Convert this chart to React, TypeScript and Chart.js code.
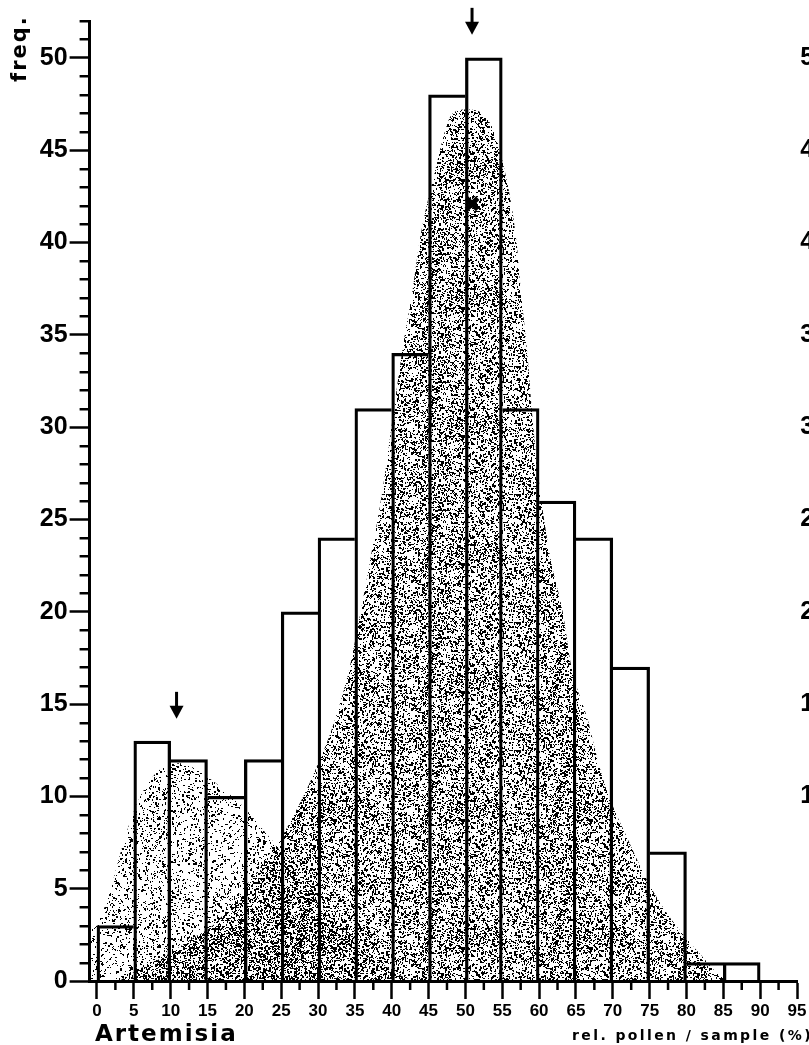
import React, { useEffect, useRef } from 'react';
import { Chart, registerables } from 'chart.js';

Chart.register(...registerables);

// ---------------- data ----------------
const binStarts = [0, 5, 10, 15, 20, 25, 30, 35, 40, 45, 50, 55, 60, 65, 70, 75, 80, 85];
const frequencies = [3, 13, 12, 10, 12, 20, 24, 31, 34, 48, 50, 31, 26, 24, 17, 7, 1, 1];
const BIN_WIDTH = 5;

// low (left) fitted mode
const lowModeX = [-1, 0, 1.5, 3.3, 5.2, 6.9, 8.7, 11.4, 13.7, 16.8, 20, 22.3, 24.4, 26.5, 29.3, 33, 37, 40.7, 43];
const lowModeY = [2.8, 3.2, 4.5, 7.1, 9.4, 10.7, 11.5, 11.8, 11.4, 10.5, 9.4, 8.3, 7.3, 6.0, 4.55, 2.9, 1.5, 0.4, 0];

// high (main) fitted mode
const highModeX = [3, 6, 9, 12.5, 16, 19.5, 23, 25.5, 27.5, 29.5, 32, 34.3, 35.3, 37, 38.8, 40.2, 41.5, 42.9, 43.8, 45.6, 48.3, 50.2, 53.3, 55.6, 57, 57.4, 58.4, 59.1, 60, 61.5, 63.2, 64.4, 66.5, 68.2, 69.3, 71.9, 74.6, 77.3, 79.8, 82.2, 84.5, 86];
const highModeY = [0, 0.7, 1.3, 2.2, 3.1, 4.8, 6.6, 8.1, 9.6, 11.3, 13.8, 17, 19, 22.6, 26.7, 30.7, 34.3, 37.6, 40.1, 43.4, 47, 47.2, 46.5, 43.4, 39.8, 37.9, 34, 30.5, 27, 23, 20, 17, 14.3, 11.6, 10.2, 7.8, 5.5, 3.7, 2.4, 1.3, 0.3, 0];

// mode arrows (x position, tip value)
const modeArrowX = [10.8, 50.9];
const modeArrowTipY = [14.2, 51.25];

// cross mark inside the main mode
const peakMarkX = [50.9];
const peakMarkY = [42.1];

const xTickLabels = [0, 5, 10, 15, 20, 25, 30, 35, 40, 45, 50, 55, 60, 65, 70, 75, 80, 85, 90, 95];
const yTickLabels = [0, 5, 10, 15, 20, 25, 30, 35, 40, 45, 50];
const X_MIN = -1;
const X_MAX = 95;
const Y_MAX = 52;

const Y_TITLE = 'freq.';
const TAXON_LABEL = 'Artemisia';
const X_TITLE = 'rel. pollen / sample (%)';

const TICK_FONT = "'Liberation Sans', Arial, sans-serif";

function makeStipple(ctx: CanvasRenderingContext2D, count: number, seed: number): CanvasPattern {
  const size = 128;
  const c = document.createElement('canvas');
  c.width = size;
  c.height = size;
  const g = c.getContext('2d') as CanvasRenderingContext2D;
  let s = seed >>> 0;
  const next = () => {
    s = (Math.imul(s, 1664525) + 1013904223) >>> 0;
    return s / 4294967296;
  };
  g.fillStyle = '#000';
  for (let i = 0; i < count; i++) {
    const px = Math.floor(next() * size);
    const py = Math.floor(next() * size);
    const w = next() < 0.35 ? 2 : 1;
    const h = next() < 0.35 ? 2 : 1;
    g.fillRect(px, py, w, h);
  }
  return ctx.createPattern(c, 'repeat') as CanvasPattern;
}

const decorPlugin = {
  id: 'decor',
  afterDraw(chart: any) {
    const { ctx, chartArea } = chart;
    const x = chart.scales.x;
    const y = chart.scales.y;
    ctx.save();
    ctx.strokeStyle = '#000';
    ctx.fillStyle = '#000';
    ctx.lineWidth = 2.5;
    ctx.lineCap = 'butt';

    // minor ticks on the y axis (every unit)
    for (let v = 0; v <= Y_MAX; v += 1) {
      if (yTickLabels.indexOf(v) >= 0) continue;
      const py = Math.round(y.getPixelForValue(v)) + 0.25;
      ctx.beginPath();
      ctx.moveTo(chartArea.left - 10, py);
      ctx.lineTo(chartArea.left, py);
      ctx.stroke();
    }
    // minor ticks on the x axis (half way between labels)
    for (let i = 0; i < xTickLabels.length - 1; i++) {
      const v = (xTickLabels[i] + xTickLabels[i + 1]) / 2;
      const px = x.getPixelForValue(v);
      ctx.beginPath();
      ctx.moveTo(px, chartArea.bottom);
      ctx.lineTo(px, chartArea.bottom + 9);
      ctx.stroke();
    }

    // arrows marking the modes
    for (let i = 0; i < modeArrowX.length; i++) {
      const px = x.getPixelForValue(modeArrowX[i]);
      const tip = y.getPixelForValue(modeArrowTipY[i]);
      ctx.lineWidth = 3;
      ctx.beginPath();
      ctx.moveTo(px, tip - 27);
      ctx.lineTo(px, tip - 10);
      ctx.stroke();
      ctx.beginPath();
      ctx.moveTo(px - 7, tip - 13);
      ctx.lineTo(px + 7, tip - 13);
      ctx.lineTo(px, tip);
      ctx.closePath();
      ctx.fill();
    }

    // captions
    ctx.textAlign = 'left';
    ctx.textBaseline = 'alphabetic';
    (ctx as any).letterSpacing = '2px';
    ctx.font = "bold 23px 'DejaVu Sans', sans-serif";
    ctx.fillText(TAXON_LABEL, x.getPixelForValue(0) - 2, chartArea.bottom + 60);

    (ctx as any).letterSpacing = '2.4px';
    ctx.font = "bold 14px 'DejaVu Sans', sans-serif";
    ctx.fillText(X_TITLE, chartArea.right - 225, chartArea.bottom + 59);

    (ctx as any).letterSpacing = '2px';
    ctx.font = "bold 21px 'DejaVu Sans', sans-serif";
    ctx.translate(chartArea.left - 64, chartArea.top + 61);
    ctx.rotate(-Math.PI / 2);
    ctx.fillText(Y_TITLE, 0, 0);
    ctx.restore();
  },
};

export default function App() {
  const ref = useRef<HTMLCanvasElement | null>(null);

  useEffect(() => {
    const canvas = ref.current;
    if (!canvas) return;
    const ctx = canvas.getContext('2d') as CanvasRenderingContext2D;
    const lowPattern = makeStipple(ctx, 1700, 12345);
    const highPattern = makeStipple(ctx, 3700, 98765);

    const barData = binStarts.map((s, i) => ({ x: s + BIN_WIDTH / 2, y: frequencies[i] }));
    const lowData = lowModeX.map((v, i) => ({ x: v, y: lowModeY[i] }));
    const highData = highModeX.map((v, i) => ({ x: v, y: highModeY[i] }));
    const markData = peakMarkX.map((v, i) => ({ x: v, y: peakMarkY[i] }));

    const BW = 2.6;
    const barBorder = (c: any) => {
      const i = c.dataIndex;
      if (i === undefined || i === null) return BW;
      const v = frequencies[i];
      const prev = i > 0 ? frequencies[i - 1] : 0;
      const nxt = i < frequencies.length - 1 ? frequencies[i + 1] : 0;
      return { top: BW, bottom: 0, left: v >= prev ? BW : 0, right: v > nxt ? BW : 0 };
    };

    const chart = new Chart(canvas, {
      type: 'bar',
      data: {
        datasets: [
          {
            type: 'line',
            label: 'mark',
            data: markData,
            showLine: false,
            pointStyle: 'crossRot',
            pointRadius: 8,
            pointBorderWidth: 5,
            pointBorderColor: '#000',
            pointBackgroundColor: '#000',
            order: 0,
          } as any,
          {
            type: 'bar',
            label: 'frequency',
            data: barData,
            backgroundColor: 'rgba(0,0,0,0)',
            borderColor: '#000',
            borderWidth: barBorder,
            borderSkipped: false,
            barThickness: 'flex',
            categoryPercentage: 1,
            barPercentage: 1,
            order: 1,
          } as any,
          {
            type: 'line',
            label: 'main mode',
            data: highData,
            fill: 'origin',
            backgroundColor: highPattern,
            borderColor: 'rgba(0,0,0,0)',
            borderWidth: 1,
            pointRadius: 0,
            cubicInterpolationMode: 'monotone',
            order: 2,
          } as any,
          {
            type: 'line',
            label: 'low mode',
            data: lowData,
            fill: 'origin',
            backgroundColor: lowPattern,
            borderColor: 'rgba(0,0,0,0)',
            borderWidth: 1,
            pointRadius: 0,
            cubicInterpolationMode: 'monotone',
            order: 3,
          } as any,
        ],
      },
      options: {
        responsive: true,
        maintainAspectRatio: false,
        animation: false,
        layout: { padding: { top: 21, left: 0, right: 0, bottom: 0 } },
        plugins: {
          legend: { display: false },
          tooltip: { enabled: false },
        },
        scales: {
          x: {
            type: 'linear',
            min: X_MIN,
            max: X_MAX,
            offset: false,
            afterBuildTicks: (s: any) => {
              s.ticks = xTickLabels.map((v) => ({ value: v }));
            },
            afterFit: (s: any) => {
              s.height = 64;
              s.paddingLeft = 0;
              s.paddingRight = 0;
            },
            grid: {
              display: true,
              offset: false,
              drawOnChartArea: false,
              drawTicks: true,
              tickLength: 18,
              tickWidth: 2.5,
              tickColor: '#000',
            },
            border: { display: true, color: '#000', width: 3 },
            ticks: {
              color: '#000',
              autoSkip: false,
              maxRotation: 0,
              padding: 2,
              font: { family: TICK_FONT, size: 17, weight: 'bold' },
              callback: (v: any) => String(v),
            },
          },
          y: {
            type: 'linear',
            position: 'left',
            min: 0,
            max: Y_MAX,
            afterBuildTicks: (s: any) => {
              s.ticks = yTickLabels.map((v) => ({ value: v }));
            },
            afterFit: (s: any) => {
              s.width = 89.6;
              s.paddingTop = 0;
              s.paddingBottom = 0;
            },
            grid: {
              display: true,
              drawOnChartArea: false,
              drawTicks: true,
              tickLength: 20,
              tickWidth: 2.5,
              tickColor: '#000',
            },
            border: { display: true, color: '#000', width: 3 },
            ticks: {
              color: '#000',
              autoSkip: false,
              padding: 2,
              font: { family: TICK_FONT, size: 25, weight: 'bold' },
              callback: (v: any) => String(v),
            },
          },
          y2: {
            type: 'linear',
            position: 'right',
            min: 0,
            max: Y_MAX,
            afterBuildTicks: (s: any) => {
              s.ticks = yTickLabels.map((v) => ({ value: v }));
            },
            afterFit: (s: any) => {
              s.width = 31;
              s.paddingTop = 0;
              s.paddingBottom = 0;
            },
            grid: { display: false, drawTicks: false },
            border: { display: false },
            ticks: {
              color: '#000',
              autoSkip: false,
              padding: 3,
              crossAlign: 'far',
              font: { family: TICK_FONT, size: 25, weight: 'bold' },
              callback: (v: any) => String(v),
            },
          },
        },
      } as any,
      plugins: [decorPlugin],
    });

    return () => {
      chart.destroy();
    };
  }, []);

  return (
    <div
      style={{
        position: 'absolute',
        left: 0,
        top: 0,
        width: 809,
        height: 1045,
        overflow: 'hidden',
        background: '#fff',
      }}
    >
      <div style={{ position: 'relative', width: 828, height: 1045 }}>
        <canvas ref={ref} />
      </div>
    </div>
  );
}
